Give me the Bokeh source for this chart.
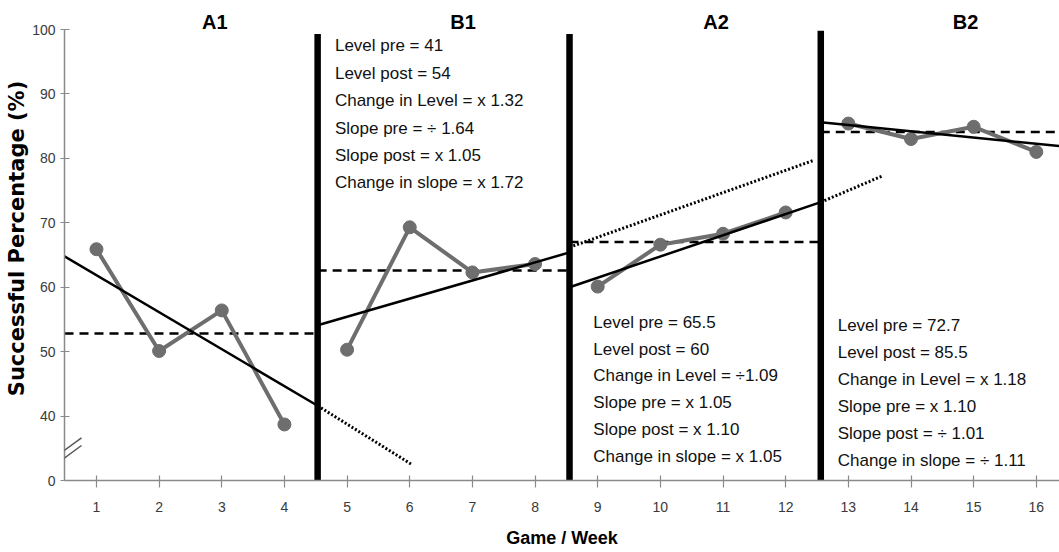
import math
from bokeh.plotting import figure
from bokeh.layouts import row
from bokeh.models import Range1d, FixedTicker, LinearAxis, Arrow
from bokeh.core.properties import value
from bokeh.embed import file_html
from bokeh.resources import INLINE

# ---------------- data ----------------
weeks = list(range(1, 17))
success = [65.9, 50.1, 56.4, 38.7,
           50.3, 69.3, 62.3, 63.6,
           60.1, 66.6, 68.3, 71.6,
           85.4, 83.0, 84.9, 81.0]

phase_names = ["A1", "B1", "A2", "B2"]
phase_edges = [0.49, 4.53, 8.55, 12.56, 16.37]      # axis start, phase changes, axis end
phase_title_x = [2.89, 6.85, 10.89, 14.87]
phase_line_top = [99.3, 99.3, 99.8]

# fitted trend (start, end level in each phase)
trend_start = [64.8, 54.1, 60.0, 85.6]
trend_end = [41.6, 65.4, 73.2, 81.9]
# mean level in each phase
mean_level = [52.8, 62.6, 67.0, 84.1]
# projected trends into the next phase
proj_x0 = [4.53, 8.55, 12.56]
proj_y0 = [41.6, 66.2, 73.2]
proj_x1 = [6.03, 12.45, 13.55]
proj_y1 = [32.5, 79.7, 77.3]

stats_B1 = ["Level pre = 41", "Level post = 54", "Change in Level = x 1.32",
            "Slope pre =  \u00f7 1.64", "Slope post = x 1.05", "Change in slope = x 1.72"]
stats_A2 = ["Level pre = 65.5", "Level post = 60", "Change in Level = \u00f71.09",
            "Slope pre = x 1.05", "Slope post = x 1.10", "Change in slope = x 1.05"]
stats_B2 = ["Level pre = 72.7", "Level post = 85.5", "Change in Level = x 1.18",
            "Slope pre = x 1.10", "Slope post = \u00f7 1.01", "Change in slope = \u00f7 1.11"]

y_ticks = [30, 40, 50, 60, 70, 80, 90, 100]
y_tick_labels = {30: "0"}

# ---------------- fonts & layout ----------------
FONT = "Liberation Sans"
TITLE_FONT = "DejaVu Sans"
W_TOTAL, H = 1059, 552
W_SIDE = 29
TOP, BOTTOM, LEFT = 29, 72, 62

# ---------------- main figure ----------------
p = figure(width=W_TOTAL - W_SIDE, height=H, output_backend="svg", toolbar_location=None,
           x_range=Range1d(phase_edges[0], phase_edges[-1]), y_range=Range1d(30, 100),
           min_border_left=LEFT - W_SIDE, min_border_right=0,
           min_border_top=TOP, min_border_bottom=BOTTOM)
p.outline_line_color = None
p.xgrid.visible = False
p.ygrid.visible = False

axis_col = "#8a8a8a"
for ax in (p.xaxis[0], p.yaxis[0]):
    ax.axis_line_color = axis_col
    ax.major_tick_line_color = axis_col
    ax.minor_tick_line_color = None
    ax.axis_line_width = 1.5
    ax.major_tick_line_width = 1.2
    ax.major_label_text_font = FONT
    ax.major_label_text_font_size = "14px"
    ax.major_label_text_color = "#3a3a3a"

p.xaxis.ticker = FixedTicker(ticks=weeks)
p.xaxis.major_tick_out = 7
p.xaxis.major_tick_in = 5
p.xaxis.major_label_standoff = 14
p.xaxis.axis_label = "Game / Week"
p.xaxis.axis_label_text_font = FONT
p.xaxis.axis_label_text_font_style = "bold"
p.xaxis.axis_label_text_font_size = "18px"
p.xaxis.axis_label_text_color = "black"
p.xaxis.axis_label_standoff = 13

p.yaxis.ticker = FixedTicker(ticks=y_ticks)
p.yaxis.major_label_overrides = y_tick_labels
p.yaxis.major_tick_out = 4
p.yaxis.major_tick_in = 5
p.yaxis.major_label_standoff = 5

# phase names as an axis above the plot
top_axis = LinearAxis(ticker=FixedTicker(ticks=phase_title_x),
                      major_label_overrides=dict(zip(phase_title_x, phase_names)),
                      axis_line_color=None, major_tick_line_color=None,
                      minor_tick_line_color=None, major_tick_out=0, major_tick_in=0,
                      major_label_standoff=-3, major_label_text_font=FONT,
                      major_label_text_font_style="bold", major_label_text_font_size="20px",
                      major_label_text_color="black")
p.add_layout(top_axis, "above")

# break marks on the y axis
for yy0, yy1 in [(32.69, 35.43), (33.9, 36.6)]:
    p.add_layout(Arrow(end=None, x_start=0.379, y_start=yy0, x_end=0.761, y_end=yy1,
                       line_color="#555555", line_width=1.5))

# mean level lines (dashed)
for i in range(4):
    p.line([phase_edges[i], phase_edges[i + 1]], [mean_level[i], mean_level[i]],
           line_color="black", line_width=2.5, line_dash="9 6")

# projected trends (dotted)
for i in range(3):
    p.line([proj_x0[i], proj_x1[i]], [proj_y0[i], proj_y1[i]],
           line_color="black", line_width=3, line_dash="2 2")

# data series, one piece per phase
for i in range(4):
    xs = weeks[4 * i:4 * i + 4]
    ys = success[4 * i:4 * i + 4]
    p.line(xs, ys, line_color="#6e6e6e", line_width=4)
    p.scatter(xs, ys, size=13, marker="circle", fill_color="#6e6e6e", line_color="#6e6e6e")

# fitted trends (solid)
for i in range(4):
    p.line([phase_edges[i], phase_edges[i + 1]], [trend_start[i], trend_end[i]],
           line_color="black", line_width=2.5)

# phase change lines
for i in range(3):
    p.line([phase_edges[i + 1], phase_edges[i + 1]], [30, phase_line_top[i]],
           line_color="black", line_width=6.5)


# statistics text blocks
def block(lines, x0, y0, dy):
    xs = [x0] * len(lines)
    ys = [y0 - k * dy for k in range(len(lines))]
    p.text(xs, ys, text=lines, text_font=value(FONT), text_font_size="17px",
           text_align="left", text_baseline="middle", text_color="#111111")


block(stats_B1, 4.806, 97.44, 4.25)
block(stats_A2, 8.93, 54.6, 4.19)
block(stats_B2, 12.83, 54.13, 4.19)

# ---------------- side strip with the y-axis title ----------------
side = figure(width=W_SIDE, height=H, output_backend="svg", toolbar_location=None,
              x_range=Range1d(0, 1), y_range=p.y_range,
              min_border_left=0, min_border_right=0,
              min_border_top=TOP, min_border_bottom=BOTTOM)
side.axis.visible = False
side.grid.visible = False
side.outline_line_color = None
side.text([16.5 / W_SIDE], [67.56], text=["Successful Percentage (%)"], angle=math.pi / 2,
          text_font=value(TITLE_FONT), text_font_style="bold", text_font_size="21px",
          text_align="center", text_baseline="middle", text_color="black")

layout = row(side, p, spacing=0)
open("out.html", "w").write(file_html(layout, INLINE))
